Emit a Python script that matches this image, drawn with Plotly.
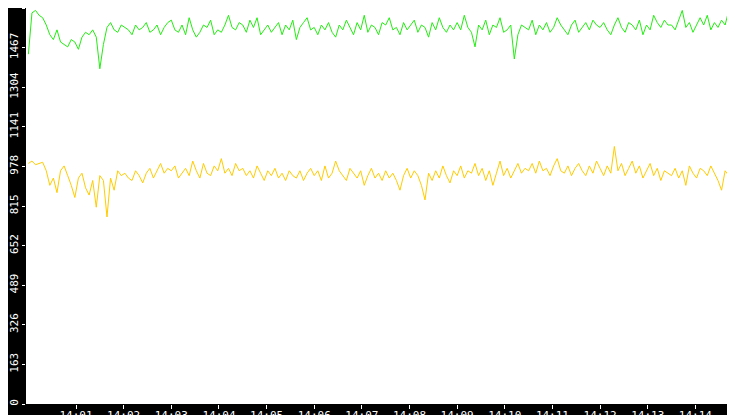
import pandas as pd
import plotly.graph_objects as go

green = [1440,1610,1620,1600,1590,1560,1520,1500,1540,1490,1480,1470,1500,1490,1460,1510,1530,1520,1540,1510,
1380,1480,1550,1570,1540,1530,1560,1550,1540,1520,1560,1540,1550,1570,1530,1540,1560,1520,1550,1570,
1580,1540,1530,1560,1520,1590,1540,1510,1530,1560,1550,1580,1520,1540,1530,1560,1600,1550,1540,1570,
1560,1530,1580,1550,1590,1520,1540,1560,1530,1550,1570,1520,1560,1540,1580,1500,1550,1570,1590,1540,
1550,1520,1560,1540,1570,1530,1510,1560,1540,1580,1550,1520,1570,1540,1600,1530,1560,1550,1520,1570,
1560,1590,1540,1550,1520,1570,1540,1560,1580,1530,1560,1550,1510,1570,1540,1590,1550,1530,1560,1540,
1570,1540,1600,1550,1530,1470,1560,1540,1580,1520,1560,1550,1590,1530,1540,1560,1420,1520,1560,1550,
1540,1580,1520,1560,1540,1570,1530,1550,1590,1560,1540,1520,1560,1580,1530,1550,1570,1540,1580,1560,
1550,1570,1540,1520,1560,1590,1550,1530,1570,1560,1540,1580,1520,1560,1540,1600,1570,1550,1580,1560,
1560,1540,1580,1620,1550,1570,1530,1560,1590,1560,1600,1540,1570,1550,1580,1560,1620,1570,1550,1530,0]

yellow = [990,1000,985,990,995,960,900,930,870,960,980,940,900,850,930,950,890,860,920,810,
940,920,770,930,880,960,940,950,930,920,960,940,910,950,970,930,960,990,950,970,
960,980,930,950,970,940,1000,960,930,990,950,940,980,960,1010,950,970,940,990,960,
970,940,960,930,980,950,920,960,940,970,930,950,920,960,940,930,960,920,950,970,
940,960,920,980,930,950,1000,960,940,920,970,950,930,960,900,940,970,930,950,920,
960,930,950,920,880,940,970,930,960,940,900,840,950,920,960,930,980,940,910,960,
940,980,930,960,950,990,940,970,920,960,900,950,1000,940,970,930,960,990,950,970,
960,990,950,1000,960,970,940,980,1010,960,950,980,940,970,990,960,940,980,950,1000,
970,940,980,950,1060,960,990,940,970,1000,950,980,930,960,990,940,970,920,960,950,
940,970,930,960,900,980,950,930,970,960,940,980,950,920,880,960,940,980,1000,960,0]

yticks = [0,163,326,489,652,815,978,1141,1304,1467,1630]
xtick_labels = ["14:%02d" % m for m in range(1, 16)]

times = list(pd.date_range("2024-01-01 14:00:00", periods=200, freq="4500ms")) + [pd.Timestamp("2024-01-01 14:14:59")]
xticks = [pd.Timestamp("2024-01-01 14:%02d:00" % m) for m in range(1, 16)]

fig = go.Figure()
fig.add_trace(go.Scatter(x=times, y=yellow, mode="lines", line=dict(color="#ffcc00", width=1)))
fig.add_trace(go.Scatter(x=times, y=green, mode="lines", line=dict(color="#22ee11", width=1)))

fig.update_layout(
    width=735, height=415, showlegend=False,
    paper_bgcolor="black", plot_bgcolor="white",
    margin=dict(l=15, r=0, t=0, b=19),
    font=dict(family="DejaVu Sans Mono", size=11, color="white"),
)
fig.update_xaxes(range=[pd.Timestamp("2024-01-01 13:59:57"), pd.Timestamp("2024-01-01 14:15:00")],
                 tickvals=xticks, ticktext=xtick_labels, showgrid=False, zeroline=False,
                 ticks="outside", ticklen=4, tickcolor="white", ticklabelstandoff=-3,
                 tickfont=dict(size=11, color="white"))
fig.update_yaxes(range=[0, 1630], tickvals=yticks, ticktext=[str(v) for v in yticks], tickangle=-90,
                 showgrid=False, zeroline=False, ticks="outside", ticklen=3, tickcolor="white",
                 tickfont=dict(size=11, color="white"))
fig.write_html("out.html")
